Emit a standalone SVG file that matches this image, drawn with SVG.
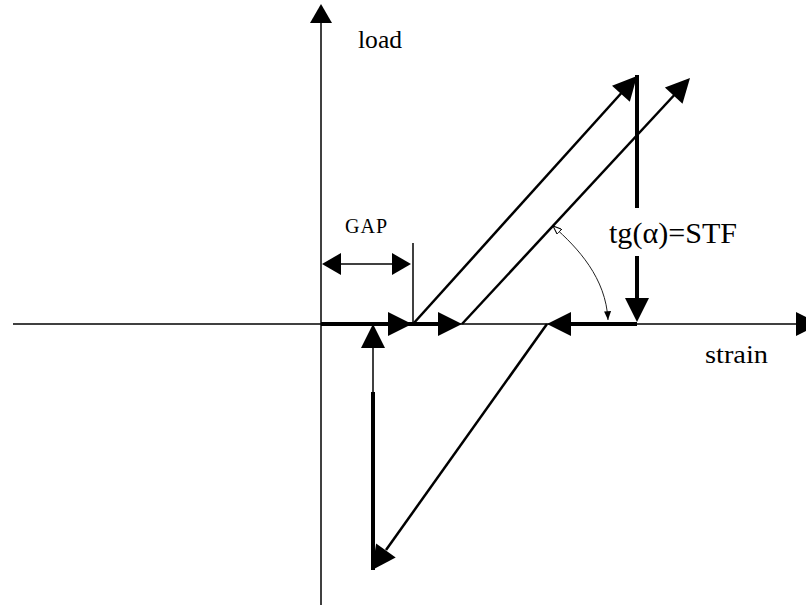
<svg xmlns="http://www.w3.org/2000/svg" xmlns:xlink="http://www.w3.org/1999/xlink" width="806" height="605" viewBox="0 0 806 605">
  <style>
    .thin { stroke: #000; stroke-width: 1.5; fill: none; }
    .thick { stroke: #000; stroke-width: 4; fill: none; }
    .diag { stroke: #000; stroke-width: 2.5; fill: none; }
    .hair { stroke: #222; stroke-width: 1; fill: none; }
    .lbl { font-family: "Liberation Serif", "Times New Roman", serif; fill: #000; }
  </style>
  <defs>
    <path id="ah" d="M0,0 L-24,-12 L-24,12 Z" fill="#000"/>
    <path id="ahs" d="M0,0 L-19,-11 L-19,11 Z" fill="#000"/>
    <marker id="tiny" viewBox="0 0 10 8" refX="10" refY="4" markerWidth="9" markerHeight="7" markerUnits="userSpaceOnUse" orient="auto">
      <path d="M0,0 L10,4 L0,8 Z" fill="#000"/>
    </marker>
    <marker id="tinyo" viewBox="0 0 10 8" refX="10" refY="4" markerWidth="9" markerHeight="7" markerUnits="userSpaceOnUse" orient="auto-start-reverse">
      <path d="M0,0 L10,4 L0,8 Z" fill="#fff" stroke="#000" stroke-width="1.2"/>
    </marker>
  </defs>
  <rect width="806" height="605" fill="#fff"/>

  <g id="axes">
    <line class="thin" x1="321" y1="18" x2="321" y2="605"/>
    <use xlink:href="#ahs" transform="translate(321,4) rotate(-90)"/>
    <line class="thin" x1="13" y1="324" x2="800" y2="324"/>
    <use xlink:href="#ah" transform="translate(820,324)"/>
  </g>

  <g id="connectors">
    <!-- loading along axis (gap) -->
    <line class="thick" x1="321" y1="324" x2="440" y2="324"/>
    <use xlink:href="#ah" transform="translate(412,324)"/>
    <use xlink:href="#ah" transform="translate(462,324)"/>
    <!-- first loading diagonal -->
    <line class="diag" x1="413" y1="324" x2="625" y2="89"/>
    <use xlink:href="#ah" transform="translate(637,76) rotate(-47.9)"/>
    <!-- second loading diagonal -->
    <line class="diag" x1="462" y1="324" x2="678" y2="91"/>
    <use xlink:href="#ah" transform="translate(690,78) rotate(-47.2)"/>
    <!-- unloading vertical -->
    <line class="thick" x1="637" y1="75" x2="637" y2="208"/>
    <line class="thick" x1="637" y1="256" x2="637" y2="300"/>
    <use xlink:href="#ah" transform="translate(637,322) rotate(90)"/>
    <!-- back along axis -->
    <line class="thick" x1="560" y1="324" x2="637" y2="324"/>
    <use xlink:href="#ah" transform="translate(547,324) rotate(180)"/>
    <!-- compression diagonal -->
    <line class="diag" x1="547" y1="324" x2="386" y2="550"/>
    <use xlink:href="#ah" transform="translate(372,570) rotate(125.4)"/>
    <!-- reload vertical -->
    <line class="thick" x1="373" y1="392" x2="373" y2="570"/>
    <line class="thin" x1="373" y1="345" x2="373" y2="393"/>
    <use xlink:href="#ah" transform="translate(373,324) rotate(-90)"/>
    <!-- GAP dimension -->
    <line class="thin" x1="413" y1="243" x2="413" y2="324"/>
    <line class="thin" x1="335" y1="264" x2="400" y2="264"/>
    <use xlink:href="#ahs" transform="translate(322,264) rotate(180)"/>
    <use xlink:href="#ahs" transform="translate(411,264)"/>
    <!-- angle arc -->
    <path class="hair" d="M553,226 C578,248 606,278 608,320" marker-start="url(#tinyo)" marker-end="url(#tiny)"/>
  </g>

  <g id="labels">
    <text class="lbl" x="358" y="48" font-size="26" textLength="44" lengthAdjust="spacingAndGlyphs">load</text>
    <text class="lbl" x="705" y="363" font-size="26" textLength="63" lengthAdjust="spacingAndGlyphs">strain</text>
    <text class="lbl" x="609" y="243" font-size="30" textLength="128" lengthAdjust="spacingAndGlyphs">tg(α)=STF</text>
    <text class="lbl" x="345" y="233" font-size="20" textLength="42" lengthAdjust="spacing">GAP</text>
  </g>
</svg>
